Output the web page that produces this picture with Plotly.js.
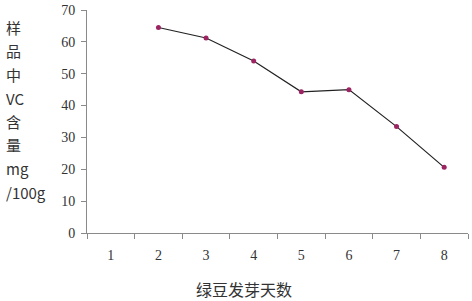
<!DOCTYPE html>
<html><head><meta charset="utf-8">
<script src="https://cdn.plot.ly/plotly-3.0.1.min.js"></script>
<style>body{margin:0;background:#fff}#c{width:472px;height:301px}</style>
</head><body><div id="c"></div>
<script>
const days = ["1","2","3","4","5","6","7","8"];
const vcValues = [null, 64.5, 61.2, 54.0, 44.3, 45.0, 33.4, 20.6];
const yTicks = [0,10,20,30,40,50,60,70];
const xTitle = "绿豆发芽天数";
const yTitleLines = ["样","品","中","VC","含","量","mg","/100g"];

const serif = "'Liberation Serif','DejaVu Serif',serif";
const trace = {
  x: days, y: vcValues, type: "scatter", mode: "lines+markers",
  line: {color: "#222222", width: 1.2},
  marker: {color: "#9c2462", size: 5},
  connectgaps: false, hoverinfo: "skip"
};
const plotTop = 10, plotBottom = 233, plotLeft = 87, plotRight = 468;
const ph = plotBottom - plotTop, pw = plotRight - plotLeft;
const lineCenters = [27, 51, 75, 98, 121, 144, 168, 192];
const yTitleAnn = yTitleLines.map((t, i) => ({
  text: t, xref: "paper", yref: "paper",
  x: -(plotLeft - 4) / pw, y: (plotBottom - lineCenters[i]) / ph,
  xanchor: "left", yanchor: "middle", showarrow: false,
  font: {family: "'Noto Sans CJK SC',sans-serif", size: 15, color: "#333"}
}));
const layout = {
  width: 472, height: 301,
  margin: {l: plotLeft, r: 472 - plotRight, t: plotTop, b: 301 - plotBottom},
  paper_bgcolor: "#fff", plot_bgcolor: "#fff",
  showlegend: false,
  xaxis: {
    type: "category", range: [-0.5, 7.5], tickson: "boundaries",
    showline: true, linecolor: "#8a8a8a", linewidth: 1,
    ticks: "outside", ticklen: 5, tickcolor: "#8a8a8a",
    showgrid: false, zeroline: false, ticklabelstandoff: 9,
    tickfont: {family: serif, size: 14, color: "#333"}
  },
  yaxis: {
    range: [0, 70], tickvals: yTicks, ticktext: yTicks.map(String),
    showline: true, linecolor: "#8a8a8a", linewidth: 1,
    ticks: "outside", ticklen: 5, tickcolor: "#8a8a8a",
    showgrid: false, zeroline: false, ticklabelstandoff: 3,
    tickfont: {family: serif, size: 14, color: "#333"}
  },
  annotations: [
    {text: xTitle, xref: "paper", yref: "paper", x: (244 - plotLeft) / pw, y: -(289 - plotBottom) / ph,
     xanchor: "center", yanchor: "middle", showarrow: false,
     font: {family: "'Noto Sans CJK SC',sans-serif", size: 16, color: "#333"}}
  ].concat(yTitleAnn)
};
Plotly.newPlot("c", [trace], layout, {staticPlot: true});
</script></body></html>
